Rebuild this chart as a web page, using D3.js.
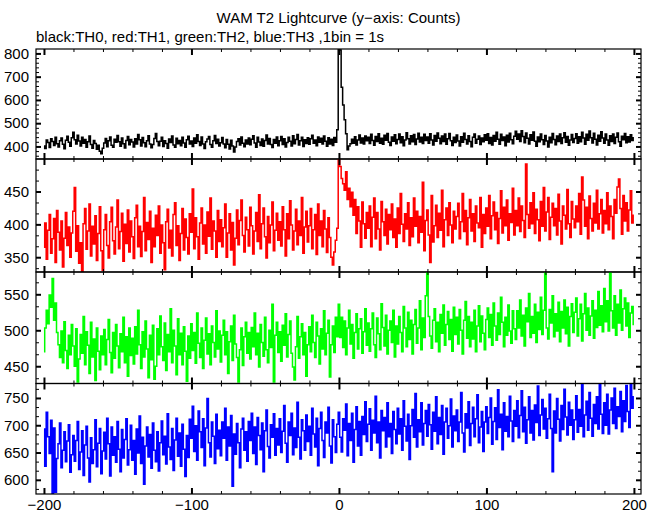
<!DOCTYPE html>
<html><head><meta charset="utf-8">
<script src="https://cdn.jsdelivr.net/npm/d3@7"></script>
<style>body{margin:0;background:#fff}text{font-family:"Liberation Sans",Arial,Helvetica,sans-serif}</style>
</head><body><svg id="c" width="660" height="515"></svg>
<script>
const tStart = -200; // time of first bin (s), 1 bin = 1 s
const th0 = [
402,391,428,417,395,433,421,404,440,412,398,425,436,409,390,427,444,418,401,437,
461,429,411,448,423,402,439,414,430,397,420,445,408,392,426,413,388,405,379,369,
392,415,434,399,424,441,405,396,431,418,447,420,401,436,412,393,426,443,407,430,
419,398,433,410,451,429,402,438,416,399,425,446,411,394,408,434,456,421,403,422,
440,400,424,413,392,432,417,445,406,397,435,412,426,403,439,415,396,429,444,410,
423,400,436,414,450,421,404,441,411,391,420,432,443,408,397,425,447,413,431,402,
416,438,410,394,430,409,389,427,402,376,398,421,433,406,441,414,399,428,411,436,
407,431,446,415,397,439,419,404,432,401,426,449,410,434,408,395,430,414,441,403,
425,443,408,433,398,417,440,422,402,446,412,430,451,406,424,439,400,429,413,437,
409,433,448,414,428,403,441,418,435,410,445,422,401,437,411,431,404,438,418,472,
825,815,655,578,515,455,386,402,412,431,414,442,406,428,449,415,436,410,445,424,
439,413,452,426,405,443,421,455,414,435,409,448,427,456,418,404,441,422,450,412,
430,453,416,442,403,428,459,433,411,446,420,451,408,432,457,419,440,413,452,426,
441,414,455,428,406,447,422,458,435,412,445,421,453,409,433,456,424,404,440,417,
449,423,402,442,418,457,430,410,446,421,399,439,454,414,431,445,408,436,420,450,
427,455,413,438,406,447,422,461,431,409,452,426,441,403,448,419,457,429,412,444,
465,431,454,421,468,443,416,458,435,410,450,427,462,422,401,441,420,453,429,408,
447,423,398,440,416,456,430,407,445,421,454,413,437,459,418,443,405,428,451,417,
434,455,414,442,420,461,436,409,452,427,466,437,415,457,431,406,448,422,463,436,
414,454,428,405,446,421,453,413,439,458,420,401,444,429,456,416,442,419,450,426,
437];
const th1 = [
365,402,347,391,415,356,378,409,342,421,388,361,405,335,379,418,368,396,350,387,
420,456,359,398,341,372,326,401,424,362,390,431,352,397,370,413,345,386,427,360,
330,392,415,368,349,404,426,375,355,396,437,363,389,417,344,400,371,422,358,405,
381,348,410,429,366,397,351,389,441,360,403,377,420,342,394,366,414,383,428,356,
399,372,331,404,423,364,391,352,415,433,368,398,345,386,424,361,408,380,355,416,
388,454,363,410,381,347,402,425,370,399,356,419,382,440,362,405,390,350,421,374,
407,366,395,431,350,387,416,361,403,338,379,422,369,406,437,383,358,411,392,367,
426,398,355,390,418,374,445,363,401,425,381,349,412,372,399,434,360,391,417,376,
404,367,427,392,352,416,378,436,399,361,390,423,369,405,383,441,356,396,420,373,
398,424,363,392,415,354,431,383,405,366,421,393,357,410,380,350,338,358,376,394,
499,488,470,462,452,480,438,455,427,449,414,438,386,427,405,365,434,401,379,418,
394,428,366,411,440,378,418,393,361,435,404,383,423,370,415,392,431,380,408,365,
425,386,447,400,374,416,393,433,368,410,381,440,397,420,372,412,388,464,360,406,
422,384,342,444,373,398,429,380,417,391,452,366,407,425,383,433,399,372,420,393,
412,432,378,404,447,389,421,369,410,438,390,416,374,428,402,395,441,365,415,386,
425,397,444,378,413,434,392,418,371,409,451,387,426,398,437,376,416,403,455,384,
421,398,440,389,428,406,380,492,415,394,433,401,448,386,423,407,375,435,397,456,
390,419,441,377,411,432,398,424,384,446,405,370,428,414,393,453,401,380,435,408,
395,428,404,447,385,472,437,397,426,378,443,409,390,432,402,452,393,416,438,387,
421,401,448,392,428,412,378,438,417,457,469,424,385,444,405,433,390,422,451,402,
414];
const th2 = [
470,503,528,509,549,532,572,514,538,497,480,462,499,455,512,472,447,493,466,508,
478,450,502,428,460,494,468,519,452,498,479,440,511,463,488,430,503,471,445,492,
466,501,452,487,515,469,441,497,461,508,478,448,495,470,518,455,491,436,503,465,
489,453,505,467,528,480,447,498,463,513,474,434,493,459,507,432,450,502,466,520,
477,458,510,444,494,470,530,455,500,478,438,516,466,496,452,505,471,429,492,461,
509,472,497,454,524,482,462,503,447,486,517,467,495,452,506,483,463,527,474,499,
456,493,514,466,498,440,484,506,458,521,481,462,428,473,503,451,491,511,468,497,
460,504,477,524,466,496,449,508,483,464,518,473,455,500,476,536,428,493,511,469,
498,457,507,479,523,463,494,513,468,449,431,477,519,461,491,509,466,497,436,480,
505,470,521,483,462,511,492,453,502,474,527,466,496,514,435,480,506,469,518,491,
536,490,518,476,513,466,503,528,481,508,461,497,523,474,502,516,468,498,530,479,
510,471,502,524,480,462,517,495,473,537,504,478,521,467,500,513,483,528,463,506,
481,519,497,470,533,503,477,525,487,514,467,508,529,482,503,541,473,517,490,548,
580,519,492,475,514,530,484,511,470,522,496,535,479,508,526,487,515,471,532,494,
518,481,529,500,467,514,540,489,519,477,511,488,528,470,506,534,484,520,496,473,
515,531,490,522,479,538,506,486,524,494,546,511,477,518,493,535,499,482,527,502,
487,527,503,542,492,521,478,531,512,551,490,519,496,536,483,525,501,546,494,528,
580,503,488,529,510,548,491,523,499,539,484,526,503,542,495,532,478,519,537,497,
525,545,492,516,536,485,523,551,500,531,493,520,541,489,528,504,554,507,534,498,
558,512,541,499,580,527,503,548,493,536,510,556,500,530,545,506,538,490,524,533,
508];
const th3 = [
693,625,724,679,648,709,572,695,577,639,666,704,622,654,688,633,671,701,614,646,
681,634,672,707,619,651,690,608,664,698,640,596,677,630,655,710,624,667,694,611,
653,687,638,713,666,607,697,645,679,632,707,656,615,692,640,674,712,627,655,700,
636,672,610,693,649,717,630,678,592,662,697,642,683,621,704,654,633,688,616,668,
708,646,680,629,721,660,637,694,617,673,713,643,686,625,702,656,606,681,641,711,
676,735,652,699,636,726,688,659,712,626,695,749,668,642,706,680,630,720,657,691,
644,706,676,731,636,697,662,718,588,684,647,703,668,622,693,713,654,688,634,707,
672,722,648,697,628,714,681,655,704,615,690,728,661,640,701,678,721,645,694,664,
712,650,689,736,667,632,706,681,722,646,695,659,742,678,638,710,690,654,719,670,
698,645,731,684,660,713,626,694,724,672,641,706,686,733,662,631,710,679,650,702,
724,678,651,712,691,739,644,703,672,722,632,692,734,662,707,645,716,683,743,670,
702,730,654,709,686,753,668,706,640,727,690,714,660,741,679,703,648,725,692,666,
731,684,712,654,745,698,671,720,637,699,729,678,758,660,710,688,741,664,703,727,
680,738,701,656,724,689,752,666,714,683,736,647,706,731,676,699,748,660,717,690,
728,670,706,760,686,651,721,695,743,663,703,733,679,712,756,668,697,725,652,706,
734,685,714,750,665,707,732,674,765,696,720,655,741,689,716,679,753,708,670,727,
698,745,677,718,763,688,733,667,710,752,686,727,673,737,705,772,681,719,747,693,
731,676,712,757,694,615,726,686,749,711,671,736,692,766,715,682,742,700,728,674,
710,754,687,729,698,775,679,719,744,691,760,713,680,738,703,752,693,778,720,685,
741,700,757,684,728,750,703,768,694,734,716,762,688,745,707,773,725,696,780,731,
752];
const seriesData = [th0, th1, th2, th3];
const seriesColors = ["#000000", "#ff0000", "#00ff00", "#0000ff"];
const yDomains = [[346, 819], [327.5, 499.5], [426, 581], [574, 776.5]];
const yMajorStep = [100, 50, 50, 50];
const yMinorDiv = [5, 3, 3, 3];
const xDomain = [-205.4, 204.8];
const xMajorStep = 100, xMinorStep = 20;
const titleText = "WAM T2 Lightcurve (y\u2212axis: Counts)";
const subtitleText = "black:TH0, red:TH1, green:TH2, blue:TH3 ,1bin = 1s";

const left = 36, right = 641;
const bounds = [49, 159, 272, 383.5, 494];
const svg = d3.select("#c");
const x = d3.scaleLinear().domain(xDomain).range([left, right]);

function ticksOf(dom, step) {
  const lo = Math.ceil(dom[0] / step - 1e-9), hi = Math.floor(dom[1] / step + 1e-9);
  return d3.range(lo, hi + 1).map(k => +(k * step).toFixed(6));
}
const fmt = d3.format("");

svg.append("text").attr("x", (left + right) / 2).attr("y", 23).attr("text-anchor", "middle")
  .attr("font-size", 15).text(titleText);
svg.append("text").attr("x", left).attr("y", 42).attr("font-size", 15).text(subtitleText);

seriesData.forEach((vals, p) => {
  const top = bounds[p], bot = bounds[p + 1];
  const y = d3.scaleLinear().domain(yDomains[p]).range([bot, top]);
  const g = svg.append("g");
  const cid = "clip" + p;
  svg.append("clipPath").attr("id", cid).append("rect")
    .attr("x", left).attr("y", top).attr("width", right - left).attr("height", bot - top);
  const line = d3.line().x((v, i) => x(tStart + i)).y(v => y(v)).curve(d3.curveStep);
  g.append("path").attr("d", line(vals)).attr("fill", "none")
    .attr("stroke", seriesColors[p]).attr("stroke-width", 1.5).attr("stroke-linejoin", "miter")
    .attr("clip-path", `url(#${cid})`);

  const yMaj = ticksOf(yDomains[p], yMajorStep[p]);
  const yMin = ticksOf(yDomains[p], yMajorStep[p] / yMinorDiv[p]).filter(t => !yMaj.some(m => Math.abs(m - t) < 1e-6));
  const xMaj = ticksOf(xDomain, xMajorStep);
  const xMin = ticksOf(xDomain, xMinorStep).filter(t => !xMaj.includes(t));

  const addAxis = (axis, tf, cls) => {
    const a = g.append("g").attr("transform", tf).call(axis);
    a.select(".domain").remove();
    a.selectAll("line").attr("stroke", "#000").attr("stroke-width", cls === "maj" ? 2 : 1);
    a.selectAll("text").attr("font-size", 15).attr("fill", "#000")
      .attr("font-family", '"Liberation Sans",Arial,sans-serif');
    return a;
  };
  addAxis(d3.axisLeft(y).tickValues(yMaj).tickSize(-5).tickPadding(7).tickFormat(fmt), `translate(${left},0)`, "maj");
  addAxis(d3.axisLeft(y).tickValues(yMin).tickSize(-3).tickFormat(""), `translate(${left},0)`, "min");
  addAxis(d3.axisRight(y).tickValues(yMaj).tickSize(-5).tickFormat(""), `translate(${right},0)`, "maj");
  addAxis(d3.axisRight(y).tickValues(yMin).tickSize(-3).tickFormat(""), `translate(${right},0)`, "min");
  addAxis(d3.axisTop(x).tickValues(xMaj).tickSize(-6).tickFormat(""), `translate(0,${top})`, "maj");
  addAxis(d3.axisTop(x).tickValues(xMin).tickSize(-3).tickFormat(""), `translate(0,${top})`, "min");
  addAxis(d3.axisBottom(x).tickValues(xMaj).tickSize(-6).tickPadding(5)
    .tickFormat(p === 3 ? d3.format("") : ""), `translate(0,${bot})`, "maj");
  addAxis(d3.axisBottom(x).tickValues(xMin).tickSize(-3).tickFormat(""), `translate(0,${bot})`, "min");

  g.append("rect").attr("x", left).attr("y", top).attr("width", right - left).attr("height", bot - top)
    .attr("fill", "none").attr("stroke", "#000").attr("stroke-width", 1.2);
});
</script></body></html>
